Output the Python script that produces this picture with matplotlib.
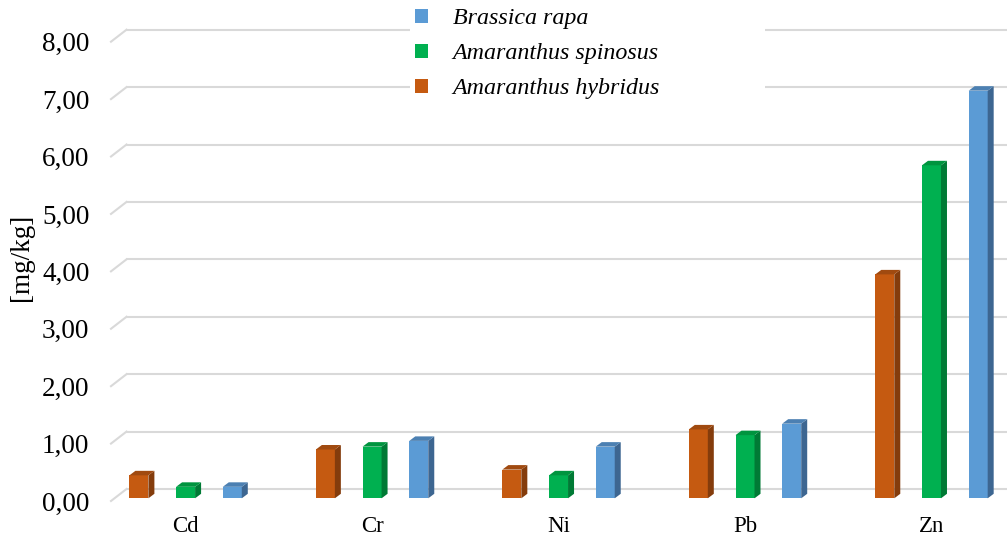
import numpy as np
import matplotlib.pyplot as plt
from matplotlib.patches import Polygon, Patch
from matplotlib.transforms import offset_copy

elements = ["Cd", "Cr", "Ni", "Pb", "Zn"]
hybridus = [0.40, 0.85, 0.50, 1.20, 3.90]
spinosus = [0.20, 0.90, 0.40, 1.10, 5.80]
rapa = [0.20, 1.00, 0.90, 1.30, 7.10]
yticks = np.arange(0, 9)

# front, top, side shades
series = [
    ("Amaranthus hybridus", hybridus, ("#C55A11", "#A04A10", "#843C0C")),
    ("Amaranthus spinosus", spinosus, ("#00B050", "#00943F", "#007A35")),
    ("Brassica rapa", rapa, ("#5B9BD5", "#4C80B2", "#3D6691")),
]

W, H = 1007, 542
fig = plt.figure(figsize=(W / 100, H / 100), dpi=100)
ax = fig.add_axes([111 / W, (H - 501) / H, (W - 111) / W, 459.3 / H])
xmin, xmax = -0.4, 4.405
ax.set_xlim(xmin, xmax)
ax.set_ylim(0, 8)

px_x = (W - 111) / (xmax - xmin)
px_y = 459.3 / 8

# wall gridlines, pushed back in depth
gdx, gdy = 15.5 / px_x, 12 / px_y
for v in yticks:
    ax.plot([xmin + gdx, xmax + 1], [v + gdy, v + gdy], color="#d9d9d9",
            lw=1.5, zorder=1, clip_on=False, solid_capstyle="butt")
    ax.plot([xmin, xmin + gdx], [v, v + gdy], color="#d9d9d9",
            lw=1.5, zorder=1, clip_on=False)

# bars with a little 3d depth
bar_tr = offset_copy(ax.transData, fig=fig, x=0, y=2.7, units="dots")
bw = 19 / px_x
step = 46.7 / px_x
ddx, ddy = 6 / px_x, 4.5 / px_y
x = np.arange(len(elements))
for k, (name, vals, (front, top, side)) in enumerate(series):
    xs = x + (k - 1) * step - bw / 2
    ax.bar(xs, vals, width=bw, align="edge", color=front, transform=bar_tr,
           zorder=3, clip_on=False)
    for x0, v in zip(xs, vals):
        ax.add_patch(Polygon([(x0 + bw, 0), (x0 + bw + ddx, ddy),
                              (x0 + bw + ddx, v + ddy), (x0 + bw, v)],
                             closed=True, facecolor=side, edgecolor="none",
                             transform=bar_tr, zorder=3, clip_on=False))
        ax.add_patch(Polygon([(x0, v), (x0 + bw, v), (x0 + bw + ddx, v + ddy),
                              (x0 + ddx, v + ddy)],
                             closed=True, facecolor=top, edgecolor="none",
                             transform=bar_tr, zorder=3, clip_on=False))

for s in ax.spines.values():
    s.set_visible(False)
ax.set_yticks(yticks)
ax.set_yticklabels(["{:.2f}".format(v).replace(".", ",") for v in yticks],
                   fontsize=19.5, fontfamily="Liberation Serif")
ax.set_xticks(x)
ax.set_xticklabels(elements, fontsize=16.5, fontfamily="Liberation Serif")
ax.tick_params(axis="y", length=0, pad=15.5)
ax.tick_params(axis="x", length=0, pad=11)
ax.set_ylabel("[mg/kg]", fontsize=19.5, fontfamily="Liberation Serif",
              va="center")
ax.yaxis.set_label_coords((21 - 111) / (W - 111), (501 - 257) / 459.3)

handles = [Patch(facecolor=c[0], label=n) for n, _, c in series[::-1]]
leg = ax.legend(handles=handles, loc="upper left", mode="expand",
                bbox_to_anchor=(410 / W, (H - 9) / H, 355 / W, 0.01),
                bbox_transform=fig.transFigure, borderaxespad=0,
                frameon=True, facecolor="white", edgecolor="none", framealpha=1,
                handlelength=0.54, handleheight=0.54, handletextpad=1.04,
                labelspacing=0.58, borderpad=0.2,
                prop={"family": "Liberation Serif", "style": "italic", "size": 17.3})
leg.set_zorder(5)

fig.savefig("out.png", dpi=100)
